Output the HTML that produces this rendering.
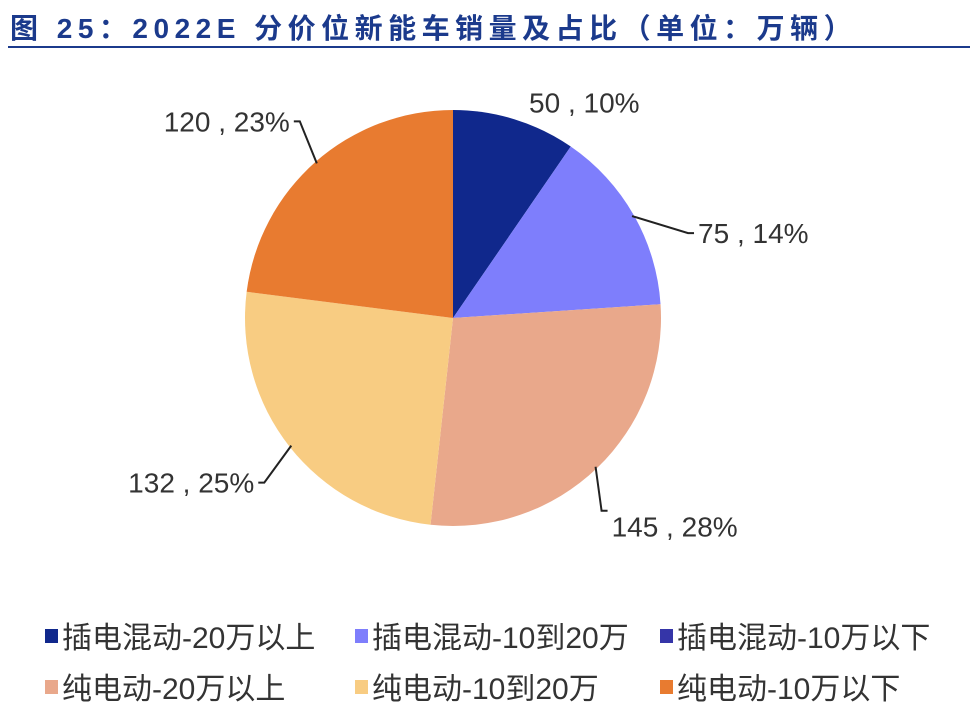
<!DOCTYPE html>
<html><head><meta charset="utf-8"><style>
body{margin:0;background:#fff;width:978px;height:712px;overflow:hidden;font-family:"Liberation Sans","Noto Sans CJK SC",sans-serif}
</style></head><body>
<svg width="978" height="712">
<text x="10" y="38" font-size="28" font-weight="bold" letter-spacing="5.5" fill="#1b3a8c" font-family="Liberation Sans,Noto Sans CJK SC,sans-serif">图 25：2022E 分价位新能车销量及占比（单位：万辆）</text>
<line x1="8" y1="47" x2="970" y2="47" stroke="#1b3a8c" stroke-width="2"/>
<g id="slices"></g><g id="labels"></g><g id="legend"></g>
</svg>
<script>
const categories=["插电混动-20万以上","插电混动-10到20万","插电混动-10万以下","纯电动-20万以上","纯电动-10到20万","纯电动-10万以下"];
const values=[50,75,0,145,132,120];
const pctLabels=["10%","14%","0%","28%","25%","23%"];
const colors=["#10288c","#7e7efc","#3535a8","#e9a88b","#f8cc82","#e87b30"];
// label layout offsets (elbow dx,dy from slice edge; line shown?)
const layout=[[15,-9,0],[56,17,1],[0,0,0],[6,44,1],[-27,37,1],[-17,-42,1]];
const NS="http://www.w3.org/2000/svg";
const cx=453,cy=318,r=208;
const total=values.reduce((a,b)=>a+b,0);
const sl=document.getElementById('slices'),lb=document.getElementById('labels'),lg=document.getElementById('legend');
function pt(a,rr){return [cx+rr*Math.sin(a),cy-rr*Math.cos(a)];}
let a0=0;
values.forEach((v,i)=>{
 const a1=a0+v/total*2*Math.PI;
 if(v>0){
 const p0=pt(a0,r),p1=pt(a1,r);
 const p=document.createElementNS(NS,'path');
 p.setAttribute('d',`M${cx},${cy}L${p0[0]},${p0[1]}A${r},${r} 0 ${a1-a0>Math.PI?1:0} 1 ${p1[0]},${p1[1]}Z`);
 p.setAttribute('fill',colors[i]);
 
 
 sl.appendChild(p);
 const m=(a0+a1)/2;
 const e=pt(m,r-2);
 const L=layout[i];
 const ox=e[0]+L[0],oy=e[1]+L[1];
 const right=Math.sin(m)>=0;
 let tx=ox,ty=oy;
 if(L[2]){
  const hx=ox+(right?6:-6);
  const l=document.createElementNS(NS,'polyline');
  l.setAttribute('points',`${e[0]},${e[1]} ${ox},${oy} ${hx},${oy}`);
  l.setAttribute('fill','none');l.setAttribute('stroke','#222');l.setAttribute('stroke-width','2');
  
  
  lb.appendChild(l);
  tx=hx+(right?4:-4);ty=oy+10;
  if(i===3){ty=oy+26;}
 }
 const t=document.createElementNS(NS,'text');
 t.setAttribute('x',tx);t.setAttribute('y',ty);
 t.setAttribute('text-anchor',right?'start':'end');
 t.setAttribute('font-size','28');t.setAttribute('fill','#333');
 t.textContent=v+' , '+pctLabels[i];
 
 
 lb.appendChild(t);
 }
 a0=a1;
});
const lx=[45,355,660],ly=[637,688];
categories.forEach((c,i)=>{
 const x=lx[i%3],y=ly[Math.floor(i/3)];
 const g=document.createElementNS(NS,'g');
 
 
 const s=document.createElementNS(NS,'rect');
 s.setAttribute('x',x);s.setAttribute('y',y-8);s.setAttribute('width',13);s.setAttribute('height',14);s.setAttribute('fill',colors[i]);
 g.appendChild(s);
 const t=document.createElementNS(NS,'text');
 t.setAttribute('x',x+17);t.setAttribute('y',y+11);t.setAttribute('font-size','30');t.setAttribute('fill','#333');
 t.textContent=c;g.appendChild(t);
 lg.appendChild(g);
});
</script>
</body></html>
